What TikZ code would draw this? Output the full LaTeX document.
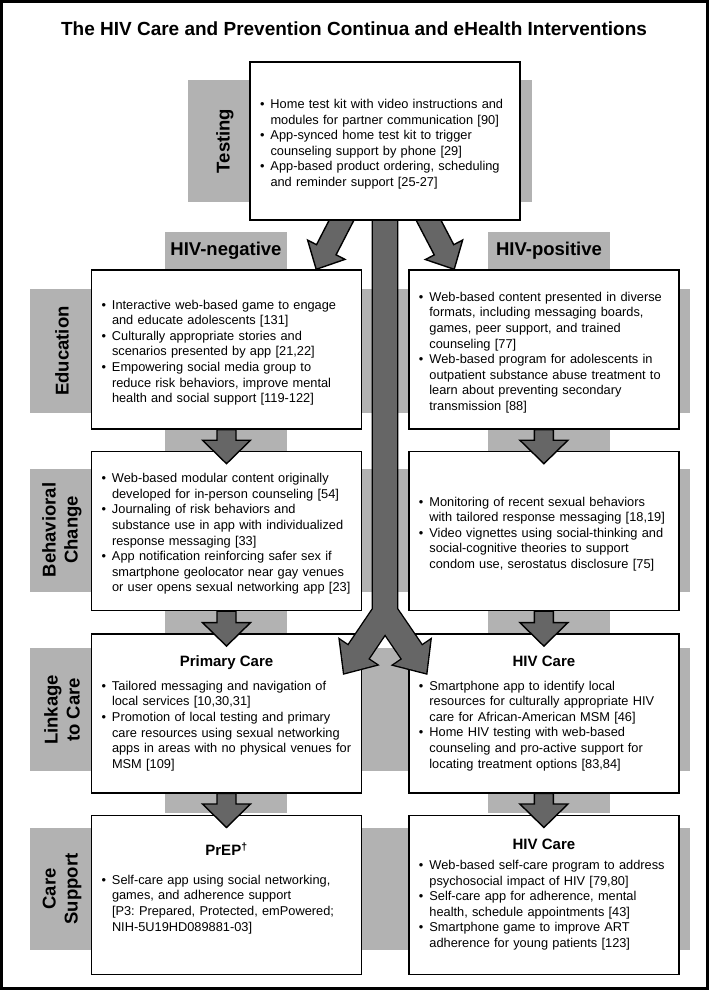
\documentclass[tikz,border=0pt]{standalone}
\usepackage{fontspec}
\setmainfont{Liberation Sans}
\usetikzlibrary{positioning,calc}

\pgfdeclarelayer{back}
\pgfdeclarelayer{front}
\pgfsetlayers{back,main,front}

\definecolor{bandgray}{gray}{0.70}
\definecolor{arrowgray}{gray}{0.40}

\newcommand{\cardfont}{\fontsize{12.8pt}{15.6pt}\selectfont\frenchspacing}
\newcommand{\lblfont}{\bfseries\fontsize{18.5pt}{22pt}\selectfont}
\newcommand{\figtitlefont}{\bfseries\fontsize{19pt}{22pt}\selectfont}
\newcommand{\bitem}[1]{\par\hangindent=10.5pt\hangafter=1\noindent\makebox[10.5pt][l]{\textbullet}#1\par}
\newcommand{\boxtitle}[2]{{\centering\bfseries\fontsize{15pt}{18pt}\selectfont #1\par}\vspace{#2}}

% corner points of a fat arrow: name, start, tip, shaft half width, head half width, head length
\newcommand{\arrowpts}[6]{%
  \coordinate (#1-s) at #2;
  \coordinate (#1-t) at #3;
  \coordinate (#1-h) at ($(#1-t)!#6!(#1-s)$);
  \coordinate (#1-1) at ($(#1-s)!#4!90:(#1-t)$);
  \coordinate (#1-2) at ($(#1-h)!#4!-90:(#1-s)$);
  \coordinate (#1-3) at ($(#1-h)!#5!-90:(#1-s)$);
  \coordinate (#1-5) at ($(#1-h)!#5!90:(#1-s)$);
  \coordinate (#1-6) at ($(#1-h)!#4!90:(#1-s)$);
  \coordinate (#1-7) at ($(#1-s)!#4!-90:(#1-t)$);
}
\newcommand{\arrowpoly}[1]{(#1-1) -- (#1-2) -- (#1-3) -- (#1-t) -- (#1-5) -- (#1-6) -- (#1-7) -- cycle}

\begin{document}
\begin{tikzpicture}[x=1pt, y=1pt, node distance=21pt and 46pt]

\tikzstyle{card} = [draw, line width=1.4pt, fill=white, minimum width=270pt, minimum height=159pt, text width=250pt, inner xsep=10pt, align=left, font=\cardfont]
\tikzstyle{flow} = [draw=black, fill=arrowgray, line width=1.4pt]
\tikzstyle{band} = [fill=bandgray]
\tikzstyle{rowlabel} = [rotate=90, align=center, font=\lblfont]
\tikzstyle{collabel} = [font=\lblfont]

\useasboundingbox (0,0) rectangle (709,-990);

% Gray bands
\begin{pgfonlayer}{back}
\fill [band] (188,-80) rectangle (532,-202);
\fill [band] (30,-289) rectangle (690,-413);
\fill [band] (30,-469) rectangle (690,-592);
\fill [band] (30,-648) rectangle (690,-771);
\fill [band] (30,-828) rectangle (690,-950);
\fill [band] (165,-232) rectangle (287,-813);
\fill [band] (488,-232) rectangle (610,-813);
\end{pgfonlayer}

% Title and labels
\node (title) [font=\figtitlefont] at (354,-29) {The HIV Care and Prevention Continua and eHealth Interventions};
\node (neglbl) [collabel] at (226,-251) {HIV-negative};
\node (poslbl) [collabel] at (549,-251) {HIV-positive};
\node (testlbl) [rowlabel] at (225,-141) {Testing};
\node (edulbl) [rowlabel] at (62,-351) {Education};
\node (behlbl) [rowlabel] at (62,-530) {Behavioral\\Change};
\node (linklbl) [rowlabel] at (62,-710) {Linkage\\to Care};
\node (carelbl) [rowlabel] at (62,-889) {Care\\Support};

% Testing box
\begin{pgfonlayer}{front}
\node (test) [card, minimum height=158pt] at (385,-141) {%
\bitem{Home test kit with video instructions and\newline modules for partner communication [90]}
\bitem{App-synced home test kit to trigger\newline counseling support by phone [29]}
\bitem{App-based product ordering, scheduling\newline and reminder support [25-27]}};
\end{pgfonlayer}

% HIV-negative column
\node (neg1) [card] at (226.5,-349.5) {%
\bitem{Interactive web-based game to engage\newline and educate adolescents [131]}
\bitem{Culturally appropriate stories and\newline scenarios presented by app [21,22]}
\bitem{Empowering social media group to\newline reduce risk behaviors, improve mental\newline health and social support [119-122]}};
\node (neg2) [card, below=of neg1] {%
\bitem{Web-based modular content originally\newline developed for in-person counseling [54]}
\bitem{Journaling of risk behaviors and\newline substance use in app with individualized\newline response messaging [33]}
\bitem{App notification reinforcing safer sex if\newline smartphone geolocator near gay venues\newline or user opens sexual networking app [23]}};
\node (neg3) [card, below=22pt of neg2] {%
\boxtitle{Primary Care}{8pt}
\bitem{Tailored messaging and navigation of\newline local services [10,30,31]}
\bitem{Promotion of local testing and primary\newline care resources using sexual networking\newline apps in areas with no physical venues for\newline MSM [109]}};
\node (neg4) [card, below=of neg3] {%
\boxtitle{PrEP\textsuperscript{†}}{13pt}
\bitem{Self-care app using social networking,\newline games, and adherence support\newline {[P3: Prepared, Protected, emPowered;}\newline NIH-5U19HD089881-03]}
\mbox{}\par};

% HIV-positive column
\node (pos1) [card, right=of neg1] {%
\bitem{Web-based content presented in diverse\newline formats, including messaging boards,\newline games, peer support, and trained\newline counseling [77]}
\bitem{Web-based program for adolescents in\newline outpatient substance abuse treatment to\newline learn about preventing secondary\newline transmission [88]}};
\node (pos2) [card, right=of neg2] {%
\bitem{Monitoring of recent sexual behaviors\newline with tailored response messaging [18,19]}
\bitem{Video vignettes using social-thinking and\newline social-cognitive theories to support\newline condom use, serostatus disclosure [75]}};
\node (pos3) [card, right=of neg3] {%
\boxtitle{HIV Care}{8pt}
\bitem{Smartphone app to identify local\newline resources for culturally appropriate HIV\newline care for African-American MSM [46]}
\bitem{Home HIV testing with web-based\newline counseling and pro-active support for\newline locating treatment options [83,84]}};
\node (pos4) [card, right=of neg4] {%
\boxtitle{HIV Care}{4pt}
\bitem{Web-based self-care program to address\newline psychosocial impact of HIV [79,80]}
\bitem{Self-care app for adherence, mental\newline health, schedule appointments [43]}
\bitem{Smartphone game to improve ART\newline adherence for young patients [123]}};

% Arrows down each column
\foreach \a/\b in {neg1/neg2, neg2/neg3, neg3/neg4, pos1/pos2, pos2/pos3, pos3/pos4} {
  \arrowpts{\a\b}{(\a.south)}{($(\b.north)+(0,-13)$)}{9.5pt}{24pt}{23.5pt}
  \filldraw [flow] \arrowpoly{\a\b};
}

% Arrows from testing
\arrowpts{tn}{($(test.south)+(-37,13)$)}{($(neg1.north east)+(-46,0)$)}{11pt}{21pt}{22pt}
\arrowpts{tp}{($(test.south)+(37,13)$)}{($(pos1.north west)+(46,0)$)}{11pt}{21pt}{22pt}
\filldraw [flow] \arrowpoly{tn};
\filldraw [flow] \arrowpoly{tp};

% Split trunk to linkage
\coordinate (split) at ($(test.south)+(0,-392)$);
\arrowpts{yl}{(split)}{($(neg3.north east)+(-18,-40)$)}{12pt}{22pt}{25pt}
\arrowpts{yr}{(split)}{($(pos3.north west)+(18,-40)$)}{12pt}{22pt}{25pt}
\draw [line width=2.8pt] ($(test.south)+(-12,5)$) rectangle ($(split)+(12,-4)$) \arrowpoly{yl} \arrowpoly{yr};
\fill [arrowgray] ($(test.south)+(-12,5)$) rectangle ($(split)+(12,-4)$);
\fill [arrowgray] \arrowpoly{yl};
\fill [arrowgray] \arrowpoly{yr};

% Frame
\draw [line width=3pt] (1.5,-1.5) rectangle (707.5,-988.5);

\end{tikzpicture}
\end{document}
